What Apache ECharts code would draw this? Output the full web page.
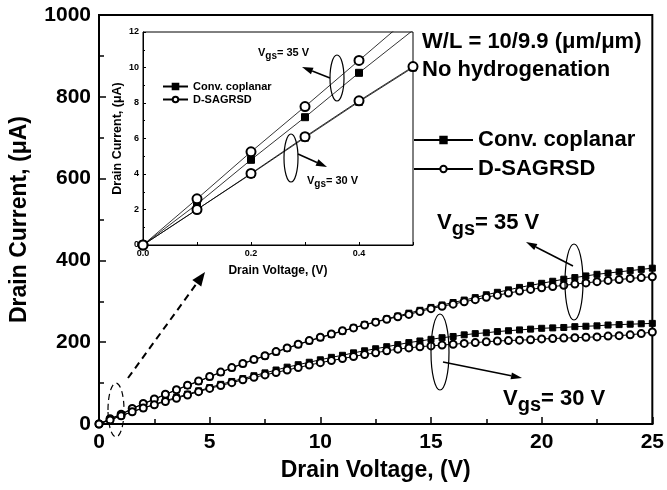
<!DOCTYPE html>
<html>
<head>
<meta charset="utf-8">
<script src="https://cdn.jsdelivr.net/npm/echarts@6/dist/echarts.min.js"></script>
<style>html,body{margin:0;padding:0;background:#fff}#chart{width:667px;height:490px}</style>
</head>
<body>
<div id="chart"></div>
<script>
// drain voltage (V), main plot
var voltage = [0, 0.5, 1, 1.5, 2, 2.5, 3, 3.5, 4, 4.5, 5, 5.5, 6, 6.5, 7, 7.5, 8, 8.5, 9, 9.5,
  10, 10.5, 11, 11.5, 12, 12.5, 13, 13.5, 14, 14.5, 15, 15.5, 16, 16.5, 17, 17.5, 18, 18.5, 19, 19.5,
  20, 20.5, 21, 21.5, 22, 22.5, 23, 23.5, 24, 24.5, 25];
// drain current (uA)
var conv35 = [0, 12, 23, 37, 49, 60, 72, 83, 94, 104, 115, 126, 137, 147, 157, 166, 176, 185, 194, 203,
  211, 219, 227, 235, 243, 250, 257, 264, 271, 278, 285, 291, 297, 303, 309, 316, 322, 328, 334, 339,
  344, 349, 354, 358, 362, 366, 369, 372, 375, 378, 381];
var sagr35 = [0, 13, 24, 38, 50, 61, 73, 84, 95, 105, 116, 127, 138, 148, 158, 167, 177, 186, 195, 204,
  212, 220, 228, 235, 242, 249, 256, 262, 268, 275, 282, 288, 293, 299, 304, 310, 315, 320, 325, 329,
  333, 336, 339, 342, 345, 348, 351, 353, 356, 358, 360];
var conv30 = [0, 10, 20, 30, 39, 48, 57, 65, 73, 81, 89, 97, 104, 111, 118, 125, 132, 139, 145, 151,
  157, 163, 168, 174, 179, 184, 189, 194, 199, 203, 207, 211, 214, 218, 221, 223, 226, 228, 230, 232,
  234, 235, 236, 238, 239, 240, 242, 243, 244, 245, 246];
var sagr30 = [0, 10, 20, 30, 39, 47, 55, 63, 71, 79, 87, 94, 101, 108, 114, 120, 126, 132, 138, 144,
  150, 155, 160, 165, 170, 174, 179, 183, 186, 189, 191, 193, 195, 197, 199, 201, 203, 204, 205, 206,
  208, 209, 210, 211, 212, 213, 215, 216, 218, 221, 225];

// inset (low drain voltage)
var voltageIn = [0, 0.1, 0.2, 0.3, 0.4, 0.5];
var conv35In = [0, 2.3, 4.8, 7.2, 9.7, 12.1];
var sagr35In = [0, 2.6, 5.25, 7.8, 10.4, 13.0];
var conv30In = [0, 2.0, 4.0, 6.05, 8.07, 10.0];
var sagr30In = [0, 2.0, 4.03, 6.1, 8.12, 10.05];

var names = ['Conv. coplanar', 'D-SAGRSD'];

var myChart = echarts.init(document.getElementById('chart'));
var FONT = '"Liberation Sans", Arial, sans-serif';

function pairs(xs, ys) {
    return xs.map(function (x, i) { return [x, ys[i]]; });
}

function arrow(x1, y1, x2, y2, dashed) {
    var ang = Math.atan2(y2 - y1, x2 - x1);
    var len = dashed ? 14 : 11, half = dashed ? 5.5 : 3.5;
    var bx = x2 - len * Math.cos(ang), by = y2 - len * Math.sin(ang);
    var px = -Math.sin(ang) * half, py = Math.cos(ang) * half;
    return [
        { type: 'line', z: 100, shape: { x1: x1, y1: y1, x2: bx, y2: by },
          style: { stroke: '#000', lineWidth: dashed ? 2 : 1.5, lineDash: dashed ? [7, 5] : null } },
        { type: 'polygon', z: 100, shape: { points: [[x2, y2], [bx + px, by + py], [bx - px, by - py]] },
          style: { fill: '#000' } }
    ];
}

function ellipse(cx, cy, rx, ry, dashed) {
    return { type: 'ellipse', z: 100, shape: { cx: cx, cy: cy, rx: rx, ry: ry },
        style: { fill: 'none', stroke: '#000', lineWidth: 1.2, lineDash: dashed ? [6, 4] : null } };
}

function vgs(left, top, volts, size) {
    var sub = Math.round(size * 0.9);
    return {
        type: 'text', left: left, top: top, z: 100,
        style: {
            text: '{m|V}{s|gs}{m|= ' + volts + ' V}',
            rich: {
                m: { fontSize: size, fontWeight: 'bold', fontFamily: FONT, fill: '#000' },
                s: { fontSize: sub, fontWeight: 'bold', fontFamily: FONT, fill: '#000', padding: [Math.round(size * 0.6), 0, 0, 0] }
            }
        }
    };
}

function lineSeries(name, data, idx, empty, size) {
    return {
        name: name, type: 'line', xAxisIndex: idx, yAxisIndex: idx,
        data: data, symbol: empty ? 'emptyCircle' : 'rect', symbolSize: size,
        showAllSymbol: true, silent: true,
        lineStyle: { color: '#000', width: idx ? 0.8 : 1 },
        itemStyle: { color: '#000', borderColor: '#000', borderWidth: 1 },
        z: empty ? 3 : 2
    };
}

var tickLabel = { color: '#000', fontFamily: FONT, fontWeight: 'bold' };

var graphics = []
    .concat(arrow(128, 378, 205, 272, true))
    .concat([ellipse(116, 410, 8, 27, true)])
    .concat(arrow(573, 266, 526, 242, false))
    .concat([ellipse(574, 282, 9, 38, false)])
    .concat(arrow(443, 362, 522, 378, false))
    .concat([ellipse(440, 352, 9, 38, false)])
    .concat(arrow(330, 78, 302, 67, false))
    .concat([ellipse(337, 78, 7, 23, false)])
    .concat(arrow(298, 154, 327, 167, false))
    .concat([ellipse(291, 158, 7, 24, false)])
    .concat([
        vgs(437, 212, '35', 22),
        vgs(503, 388, '30', 22),
        vgs(258, 47, '35', 11),
        vgs(307, 175, '30', 11),
        { type: 'text', left: 422, top: 31, z: 100,
          style: { text: 'W/L = 10/9.9 (\u03bcm/\u03bcm)', font: 'bold 22px ' + FONT, fill: '#000' } },
        { type: 'text', left: 422, top: 59, z: 100,
          style: { text: 'No hydrogenation', font: 'bold 22px ' + FONT, fill: '#000' } }
    ]);

var option = {
    animation: false,
    backgroundColor: '#fff',
    grid: [
        { left: 97, top: 15, width: 560, height: 409, show: true, borderColor: '#000', borderWidth: 2 },
        { left: 143, top: 32, width: 270, height: 213, show: true, borderColor: '#000', borderWidth: 1 }
    ],
    legend: [
        { data: names, orient: 'vertical', left: 413, top: 129, padding: 0, itemWidth: 59, itemHeight: 8, itemGap: 7,
          selectedMode: false, textStyle: { color: '#000', fontFamily: FONT, fontWeight: 'bold', fontSize: 22 } },
        { data: names, orient: 'vertical', left: 162, top: 81, padding: 0, itemWidth: 25, itemHeight: 7, itemGap: 2,
          selectedMode: false, textStyle: { color: '#000', fontFamily: FONT, fontWeight: 'bold', fontSize: 11 } }
    ],
    xAxis: [
        {
            type: 'value', gridIndex: 0, min: 0, max: 25, interval: 5,
            axisLine: { lineStyle: { color: '#000', width: 2 } },
            axisTick: { inside: true, length: 7, lineStyle: { color: '#000', width: 1.5 } },
            minorTick: { show: true, splitNumber: 2, length: 5, lineStyle: { color: '#000', width: 1.5 } },
            splitLine: { show: false },
            axisLabel: Object.assign({ fontSize: 21, margin: 8 }, tickLabel),
            name: 'Drain Voltage, (V)', nameLocation: 'middle', nameGap: 35,
            nameTextStyle: Object.assign({ fontSize: 23 }, tickLabel)
        },
        {
            type: 'value', gridIndex: 1, min: 0, max: 0.5, interval: 0.1,
            axisLine: { lineStyle: { color: '#000', width: 1 } },
            axisTick: { inside: true, length: 3, lineStyle: { color: '#000', width: 1 } },
            splitLine: { show: false },
            axisLabel: Object.assign({
                fontSize: 9, margin: 4,
                formatter: function (v) {
                    var k = Math.round(v * 10);
                    return (k % 2 === 0 && k < 5) ? v.toFixed(1) : '';
                }
            }, tickLabel),
            name: 'Drain Voltage, (V)', nameLocation: 'middle', nameGap: 20,
            nameTextStyle: Object.assign({ fontSize: 12 }, tickLabel)
        }
    ],
    yAxis: [
        {
            type: 'value', gridIndex: 0, min: 0, max: 1000, interval: 200,
            axisLine: { lineStyle: { color: '#000', width: 2 } },
            axisTick: { inside: true, length: 7, lineStyle: { color: '#000', width: 1.5 } },
            minorTick: { show: true, splitNumber: 2, length: 5, lineStyle: { color: '#000', width: 1.5 } },
            splitLine: { show: false },
            axisLabel: Object.assign({ fontSize: 21, margin: 8, formatter: function (v) { return String(v); } }, tickLabel),
            name: 'Drain Current, (\u03bcA)', nameLocation: 'middle', nameGap: 68, nameRotate: 90,
            nameTextStyle: Object.assign({ fontSize: 23 }, tickLabel)
        },
        {
            type: 'value', gridIndex: 1, min: 0, max: 12, interval: 2,
            axisLine: { lineStyle: { color: '#000', width: 1 } },
            axisTick: { inside: true, length: 3, lineStyle: { color: '#000', width: 1 } },
            minorTick: { show: true, splitNumber: 2, length: 2, lineStyle: { color: '#000', width: 1 } },
            splitLine: { show: false },
            axisLabel: Object.assign({ fontSize: 9, margin: 4 }, tickLabel),
            name: 'Drain Current, (\u03bcA)', nameLocation: 'middle', nameGap: 19, nameRotate: 90,
            nameTextStyle: Object.assign({ fontSize: 12.5 }, tickLabel)
        }
    ],
    series: [
        lineSeries(names[0], pairs(voltage, conv35), 0, false, 6),
        lineSeries(names[1], pairs(voltage, sagr35), 0, true, 7),
        lineSeries(names[0], pairs(voltage, conv30), 0, false, 6),
        lineSeries(names[1], pairs(voltage, sagr30), 0, true, 7),
        lineSeries(names[0], pairs(voltageIn, conv35In), 1, false, 7),
        lineSeries(names[1], pairs(voltageIn, sagr35In), 1, true, 9),
        lineSeries(names[0], pairs(voltageIn, conv30In), 1, false, 7),
        lineSeries(names[1], pairs(voltageIn, sagr30In), 1, true, 9)
    ],
    graphic: graphics
};

myChart.setOption(option);
</script>
</body>
</html>
